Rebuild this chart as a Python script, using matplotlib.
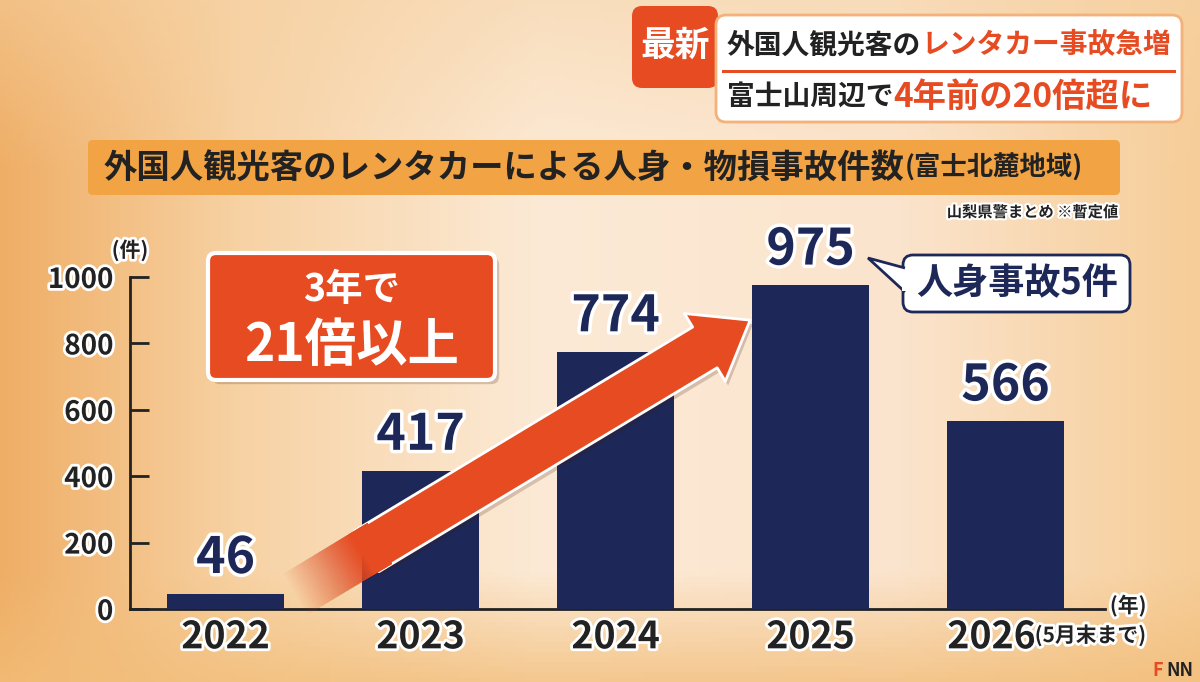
import numpy as np
import matplotlib
matplotlib.use("Agg")
import matplotlib.pyplot as plt
import matplotlib.patheffects as pe
from matplotlib.patches import FancyBboxPatch, FancyArrowPatch, Polygon, Rectangle
from matplotlib.collections import LineCollection
from matplotlib.colors import to_rgb, to_rgba
from matplotlib.transforms import ScaledTranslation

plt.rcParams['font.family'] = ['Noto Sans CJK JP', 'DejaVu Sans']
plt.rcParams['font.weight'] = 'bold'

# ---- data ----
years = ["2022", "2023", "2024", "2025", "2026"]
counts = [46, 417, 774, 975, 566]
yticks = [0, 200, 400, 600, 800, 1000]
last_suffix = "(5月末まで)"
title_main = "外国人観光客のレンタカーによる人身・物損事故件数"
title_sub = "(富士北麓地域)"
source = "山梨県警まとめ ※暫定値"

W, H = 1200, 682
NAVY = "#1d2858"
RED = "#e64b22"
DARK = "#222222"

fig = plt.figure(figsize=(W / 100, H / 100), dpi=100)

# ---- background gradient ----
bg = fig.add_axes([0, 0, 1, 1], zorder=-10)
bg.set_axis_off()
nx, ny = 240, 137
xs = np.linspace(0, 1, nx)
stops = [(0.0, "#efae66"), (0.2, "#f7d2a4"), (0.45, "#fcead6"), (0.75, "#fbe4cd"), (1.0, "#f6cd98")]
sp = np.array([s[0] for s in stops])
sc = np.array([to_rgb(s[1]) for s in stops])
row = np.stack([np.interp(xs, sp, sc[:, k]) for k in range(3)], axis=-1)
ys = np.linspace(0, 1, ny)[:, None, None]
bottom_col = np.array(to_rgb("#f2bd78"))
wb = np.clip((ys - 0.84) / 0.16, 0, 1) * 0.75
top_col = np.array(to_rgb("#f6d2a4"))
wt = np.clip((0.25 - ys) / 0.25, 0, 1) * 0.5
img = row[None, :, :] * (1 - wb - wt) + bottom_col * wb + top_col * wt
bg.imshow(img, extent=[0, 1, 0, 1], aspect='auto', origin='upper')
bg.set_xlim(0, 1)
bg.set_ylim(0, 1)

# ---- main axes ----
ax = fig.add_axes([130 / W, 73 / H, 975 / W, 332 / H], zorder=1)
ax.set_facecolor("none")
x = np.arange(len(years))
bars = ax.bar(x, counts, width=0.6, color=NAVY, zorder=3)
ax.set_xlim(-0.49, 4.51)
ax.set_ylim(0, 1000)
ax.set_yticks(yticks)
ax.set_yticklabels([str(v) for v in yticks])
ax.set_xticks(x)
ax.set_xticklabels(years)
for s in ["top", "right"]:
    ax.spines[s].set_visible(False)
for s in ["left", "bottom"]:
    ax.spines[s].set_color(DARK)
    ax.spines[s].set_linewidth(2)
ax.tick_params(axis="y", direction="in", length=14, width=2, color=DARK, labelsize=20, pad=12,
               labelcolor=DARK)
ax.tick_params(axis="x", length=0, labelsize=27, pad=6, labelcolor=DARK)
stroke = [pe.withStroke(linewidth=4, foreground="white")]
for lab in ax.get_yticklabels() + ax.get_xticklabels():
    lab.set_path_effects(stroke)
    lab.set_fontweight("bold")
xl = ax.get_xticklabels()
xl[-1].set_transform(xl[-1].get_transform() + ScaledTranslation(-14 / 100, 0, fig.dpi_scale_trans))

ax.annotate(last_suffix, xy=(x[-1], 0), xycoords="data", xytext=(21, -19), textcoords="offset points",
            ha="left", va="center", fontsize=15, color=DARK, annotation_clip=False,
            path_effects=stroke)

for xi, v in zip(x, counts):
    ax.annotate(str(v), xy=(xi, v), xytext=(0, 7), textcoords="offset points",
                ha="center", va="bottom", fontsize=36, color=NAVY, zorder=6,
                path_effects=[pe.withStroke(linewidth=5, foreground="white")])

ax.text(0, 1.08, "(件)", transform=ax.transAxes, ha="center", va="center", fontsize=15,
        color=DARK, path_effects=stroke)
ax.text(1.005, 0.01, "(年)", transform=ax.transAxes, ha="left", va="center", fontsize=15,
        color=DARK, path_effects=stroke)

# ---- big arrow with fading tail ----
p0 = np.array([0.36, 45.0])
tip = np.array([2.69, 870.0])
fade_end = 0.15
arrow = FancyArrowPatch(tuple(p0 + (fade_end + 0.006) * (tip - p0)), tuple(tip),
                        arrowstyle="simple,head_width=0.6,head_length=0.4,tail_width=0.36",
                        mutation_scale=95, fc=RED, ec="white", lw=2, zorder=7,
                        shrinkA=0, shrinkB=0, clip_on=False,
                        path_effects=[pe.SimplePatchShadow(offset=(2, -3), alpha=0.2), pe.Normal()])
ax.add_patch(arrow)
K = 30
p_end = p0 + (fade_end + 0.035) * (tip - p0)
segs, cols = [], []
for k in range(1, K + 1):
    s = (k - 1) / K * fade_end
    segs.append([p0 + s * (tip - p0), p_end])
    cols.append(to_rgba(RED, 1.0 / (K - k + 1)))
ax.add_collection(LineCollection(segs, colors=cols, linewidths=95 * 0.36, capstyle="butt",
                                 zorder=7.5, clip_on=False))

# ---- overlay in pixel coordinates ----
ov = fig.add_axes([0, 0, 1, 1], zorder=5)
ov.set_axis_off()
ov.set_facecolor("none")
ov.set_xlim(0, W)
ov.set_ylim(H, 0)

def rbox(x0, y0, x1, y1, r, **kw):
    p = FancyBboxPatch((x0, y0), x1 - x0, y1 - y0,
                       boxstyle=f"round,pad=0,rounding_size={r}", **kw)
    ov.add_patch(p)
    return p

# header
rbox(632, 6, 718, 88, 10, fc=RED, ec="none", zorder=1)
ov.text(675, 45, "最新", color="white", fontsize=25, ha="center", va="center", zorder=5)
rbox(716, 15, 1182, 122, 10, fc="white", ec="#f3b27a", lw=2, zorder=2)
ov.add_patch(Rectangle((722, 70), 454, 2.5, fc=RED, ec="none", zorder=3))
t1 = ov.text(727, 45, "外国人観光客の", color=DARK, fontsize=20, ha="left", va="center", zorder=5)
ov.annotate("レンタカー事故急増", xy=(1, 0.5), xycoords=t1, ha="left", va="center",
            color=RED, fontsize=20, annotation_clip=False, zorder=5)
t2 = ov.text(727, 97, "富士山周辺で", color=DARK, fontsize=20, ha="left", va="center", zorder=5)
ov.annotate("4年前の20倍超に", xy=(1, 0.5), xycoords=t2, ha="left", va="center",
            color=RED, fontsize=24, annotation_clip=False, zorder=5)

# title banner
rbox(88, 140, 1120, 195, 5, fc="#f2a344", ec="none", zorder=1)
tt = ov.text(104, 168, title_main, color=DARK, fontsize=24, ha="left", va="center", zorder=5)
ov.annotate(title_sub, xy=(1, 0.5), xycoords=tt, ha="left", va="center",
            color=DARK, fontsize=19, annotation_clip=False, zorder=5)
ov.text(1118, 212, source, color=DARK, fontsize=11, ha="right", va="center", zorder=5,
        path_effects=[pe.withStroke(linewidth=3, foreground="white")])

# callout box
rbox(208, 253, 495, 380, 8, fc=RED, ec="white", lw=3, zorder=8,
     path_effects=[pe.SimplePatchShadow(offset=(3, -3), alpha=0.2), pe.Normal()])
ov.text(352, 290, "3年で", color="white", fontsize=27, ha="center", va="center", zorder=9)
ov.text(352, 345, "21倍以上", color="white", fontsize=37, ha="center", va="center", zorder=9)

# speech bubble
rbox(903, 255, 1130, 312, 10, fc="white", ec=NAVY, lw=2, zorder=8)
ov.add_patch(Polygon([(905, 268), (868, 258), (905, 292)], closed=False,
                     fc="white", ec=NAVY, lw=2, zorder=9))
ov.add_patch(Rectangle((902, 270), 5, 21, fc="white", ec="none", zorder=9.5))
ov.text(1017, 284, "人身事故5件", color=NAVY, fontsize=26, ha="center", va="center", zorder=10)

# logo
ov.text(1152, 670, "F", color=RED, fontsize=13, ha="left", va="center")
ov.text(1166, 670, "NN", color=DARK, fontsize=13, ha="left", va="center")

fig.savefig("out.png", dpi=100)
